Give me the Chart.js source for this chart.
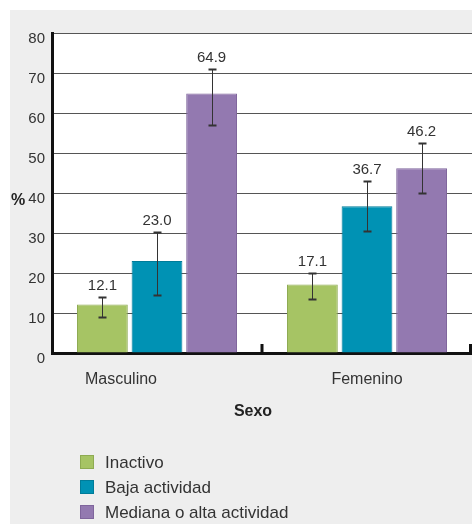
<!DOCTYPE html>
<html>
<head>
<meta charset="utf-8">
<script src="https://cdn.jsdelivr.net/npm/chart.js@4/dist/chart.umd.min.js"></script>
<style>
  html, body { margin: 0; padding: 0; background: #fff; }
  canvas { display: block; }
</style>
</head>
<body>
<canvas id="actividadChart" width="472" height="524"></canvas>
<script>
// actividad fisica por sexo, % con intervalos de confianza
const categorias = ["Masculino", "Femenino"];
const series = ["Inactivo", "Baja actividad", "Mediana o alta actividad"];
const inactivo = [12.1, 17.1];
const bajaActividad = [23.0, 36.7];
const medianaAlta = [64.9, 46.2];
// limites de las barras de error (inferior / superior)
const errInferior = [[9.0, 13.5], [14.4, 30.6], [57.1, 40.1]];
const errSuperior = [[14.0, 20.1], [30.3, 43.1], [71.0, 52.4]];
const yTicks = [0, 10, 20, 30, 40, 50, 60, 70, 80];
const tituloX = "Sexo";
const tituloY = "%";

const colores = ["#a6c464", "#0092b4", "#9379b0"];
const bordes = ["#8eab52", "#007c99", "#7f659c"];
const textColor = "#333";
const font = "Liberation Sans, Arial, sans-serif";

const valores = [inactivo, bajaActividad, medianaAlta];

// fondo gris + area blanca del grafico
const fondoPlugin = {
    id: "fondo",
    beforeDraw(chart) {
        const { ctx, chartArea } = chart;
        ctx.save();
        ctx.fillStyle = "#fff";
        ctx.fillRect(0, 0, chart.width, chart.height);
        ctx.fillStyle = "#eeeeee";
        ctx.fillRect(10, 10, chart.width - 10, chart.height - 10);
        ctx.fillStyle = "#fff";
        ctx.fillRect(chartArea.left, chartArea.top, chartArea.right - chartArea.left, chartArea.bottom - chartArea.top);
        ctx.restore();
    }
};

// barras de error, etiquetas, titulos y leyenda
const extrasPlugin = {
    id: "extras",
    afterDraw(chart) {
        const { ctx, chartArea, scales } = chart;
        const y = scales.y, x = scales.x;
        ctx.save();

        // error bars + value labels
        chart.data.datasets.forEach((ds, di) => {
            const meta = chart.getDatasetMeta(di);
            meta.data.forEach((bar, i) => {
                const yTop = Math.round(y.getPixelForValue(errSuperior[di][i])) + 0.5;
                const yBot = Math.round(y.getPixelForValue(errInferior[di][i])) + 0.5;
                const bx = Math.round(bar.x) + 0.5;
                ctx.strokeStyle = "#333";
                ctx.lineWidth = 1;
                ctx.beginPath();
                ctx.moveTo(bx, yTop);
                ctx.lineTo(bx, yBot);
                ctx.stroke();
                ctx.lineWidth = 2;
                ctx.beginPath();
                ctx.moveTo(bx - 4, yTop); ctx.lineTo(bx + 4, yTop);
                ctx.moveTo(bx - 4, yBot); ctx.lineTo(bx + 4, yBot);
                ctx.stroke();

                ctx.fillStyle = textColor;
                ctx.font = "15px " + font;
                ctx.textAlign = "center";
                ctx.textBaseline = "middle";
                ctx.fillText(ds.data[i].toFixed(1), bar.x, yTop - 12);
            });
        });

        // marcas entre categorias
        const x0 = x.getPixelForValue(0), x1 = x.getPixelForValue(1);
        const w = x1 - x0;
        ctx.fillStyle = "#111";
        ctx.fillRect(x0 + w / 2 - 1.5, chartArea.bottom - 9, 3, 9);
        ctx.fillRect(Math.min(x1 + w / 2, chart.width) - 3, chartArea.bottom - 9, 3, 9);

        // etiquetas del eje x
        const shift = [-36, 0];
        ctx.fillStyle = textColor;
        ctx.font = "16px " + font;
        ctx.textAlign = "center";
        ctx.textBaseline = "middle";
        categorias.forEach((c, i) => {
            ctx.fillText(c, x.getPixelForValue(i) + shift[i], chartArea.bottom + 27);
        });

        // titulos
        ctx.font = "bold 16px " + font;
        ctx.fillStyle = "#222";
        ctx.fillText(tituloX, 253, 412);
        ctx.fillText(tituloY, 18, 201);

        // leyenda
        ctx.font = "17px " + font;
        ctx.textAlign = "left";
        series.forEach((s, i) => {
            const ly = 462 + i * 25;
            ctx.fillStyle = colores[i];
            ctx.fillRect(80, ly - 7, 14, 14);
            ctx.strokeStyle = bordes[i];
            ctx.lineWidth = 1;
            ctx.strokeRect(80.5, ly - 6.5, 13, 13);
            ctx.fillStyle = textColor;
            ctx.fillText(s, 105, ly + 1);
        });

        ctx.restore();
    }
};

const ctx = document.getElementById("actividadChart").getContext("2d");
new Chart(ctx, {
    type: "bar",
    data: {
        labels: categorias,
        datasets: series.map((s, i) => ({
            label: s,
            data: valores[i],
            backgroundColor: colores[i],
            borderColor: bordes[i],
            borderWidth: 1,
            categoryPercentage: 0.78,
            barPercentage: 0.93
        }))
    },
    options: {
        responsive: false,
        animation: false,
        layout: { padding: { top: 33, left: 0, right: 0, bottom: 0 } },
        plugins: {
            legend: { display: false },
            tooltip: { enabled: false }
        },
        scales: {
            x: {
                grid: { display: false },
                border: { display: true, color: "#111", width: 3 },
                ticks: { display: false },
                afterFit: (scale) => { scale.height = 171; }
            },
            y: {
                min: 0,
                max: 80,
                z: 1,
                afterBuildTicks: (scale) => { scale.ticks = yTicks.map(v => ({ value: v })); },
                afterFit: (scale) => { scale.width = 52; },
                grid: { color: "#555", lineWidth: 1, drawTicks: false },
                border: { display: true, color: "#111", width: 3 },
                ticks: {
                    padding: 7,
                    labelOffset: 6,
                    color: textColor,
                    font: { family: font, size: 15 }
                }
            }
        }
    },
    plugins: [fondoPlugin, extrasPlugin]
});
</script>
</body>
</html>
